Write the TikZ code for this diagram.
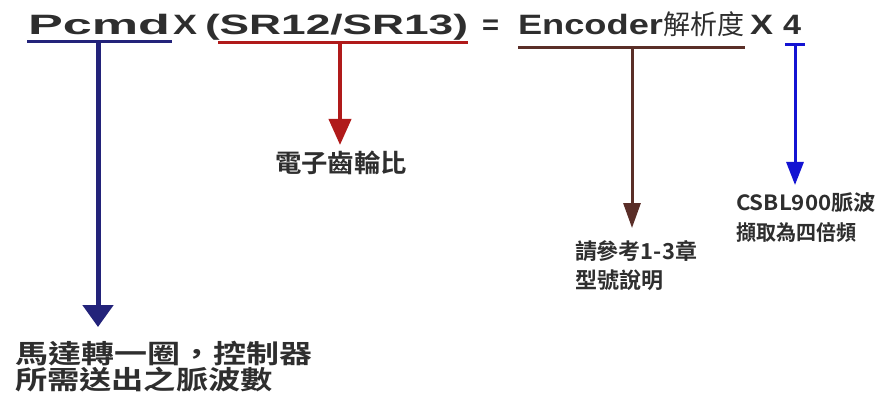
\documentclass[tikz,border=0pt]{standalone}
\usepackage{fontspec}
\usepackage{graphicx}
\setmainfont{Liberation Sans}
\newfontfamily\cjk{Noto Sans CJK TC}[BoldFont={Noto Sans CJK TC Bold}]
\usetikzlibrary{arrows.meta}
\definecolor{txt}{HTML}{2E2E2E}
\definecolor{navyc}{HTML}{23237A}
\definecolor{redc}{HTML}{B01A1A}
\definecolor{brownc}{HTML}{5A2E28}
\definecolor{bluec}{HTML}{1414D2}
\newcommand{\fitw}[2]{\resizebox{#1}{\height}{#2}}
\begin{document}
\begin{tikzpicture}[x=1pt,y=-1pt,
  t/.style={inner sep=0pt,outer sep=0pt,anchor=base west,text=txt},
  ttl/.style={t,font=\fontsize{28}{28}\selectfont\bfseries},
  cj/.style={t,font=\cjk\bfseries},
  uline/.style={line width=3pt},
]
\useasboundingbox[fill=white] (0,0) rectangle (877,398);

% title
\node[ttl] (pcmd) at (28,35) {\fitw{142pt}{Pcmd}};
\node[ttl] (x1) at (173,35) {\fitw{24pt}{X}};
\node[ttl] (sr) at (205,35) {\fitw{263pt}{(SR12/SR13)}};
\node[ttl] (eq) at (482,35) {\fitw{17pt}{=}};
\node[ttl] (enc) at (518,35) {\fitw{145pt}{Encoder}};
\node[t,font=\cjk\fontsize{27}{27}\selectfont] (res) at (663,35) {解析度};
\node[ttl] (x2) at (750,35) {\fitw{23pt}{X}};
\node[ttl] (four) at (783,35) {\fitw{18pt}{4}};

% underlines
\coordinate (pu1) at (27,42);  \coordinate (pu2) at (172,42);
\coordinate (ru1) at (218,43); \coordinate (ru2) at (468,43);
\coordinate (bu1) at (518,48); \coordinate (bu2) at (745,48);
\coordinate (fu1) at (785,45); \coordinate (fu2) at (805,45);
\draw[uline,navyc] (pu1) -- (pu2);
\draw[uline,redc] (ru1) -- (ru2);
\draw[uline,brownc] (bu1) -- (bu2);
\draw[uline,bluec] (fu1) -- (fu2);

% labels
\node[cj,font=\cjk\bfseries\fontsize{25}{25}\selectfont] (gear) at (275,172) {\fitw{132pt}{電子齒輪比}};
\node[cj,font=\cjk\bfseries\fontsize{22}{22}\selectfont] (ref1) at (575,259) {\fitw{122pt}{請參考1-3章}};
\node[cj,font=\cjk\bfseries\fontsize{22}{22}\selectfont] (ref2) at (575,288) {\fitw{88pt}{型號說明}};
\node[cj,font=\cjk\bfseries\fontsize{21}{21}\selectfont] (cs1) at (736,211) {\fitw{140pt}{CSBL900脈波}};
\node[cj,font=\cjk\bfseries\fontsize{21}{21}\selectfont] (cs2) at (736,240) {\fitw{120pt}{擷取為四倍頻}};
\node[cj,font=\cjk\bfseries\fontsize{26}{26}\selectfont] (m1) at (15,363) {\fitw{297pt}{馬達轉一圈，控制器}};
\node[cj,font=\cjk\bfseries\fontsize{26}{26}\selectfont] (m2) at (15,389) {\fitw{258pt}{所需送出之脈波數}};

% arrows
\coordinate (a1s) at (98,42);  \coordinate (a1e) at (98,327);
\coordinate (a2s) at (340,43); \coordinate (a2e) at (340,145);
\coordinate (a3s) at (632,48); \coordinate (a3e) at (632,228);
\coordinate (a4s) at (795,45); \coordinate (a4e) at (795,185);
\draw[navyc,line width=5pt,-{Triangle[width=30pt,length=22pt]}] (a1s) -- (a1e);
\draw[redc,line width=4pt,-{Triangle[width=22pt,length=26pt]}] (a2s) -- (a2e);
\draw[brownc,line width=3pt,-{Triangle[width=17pt,length=25pt]}] (a3s) -- (a3e);
\draw[bluec,line width=3pt,-{Triangle[width=17pt,length=23pt]}] (a4s) -- (a4e);
\end{tikzpicture}
\end{document}
